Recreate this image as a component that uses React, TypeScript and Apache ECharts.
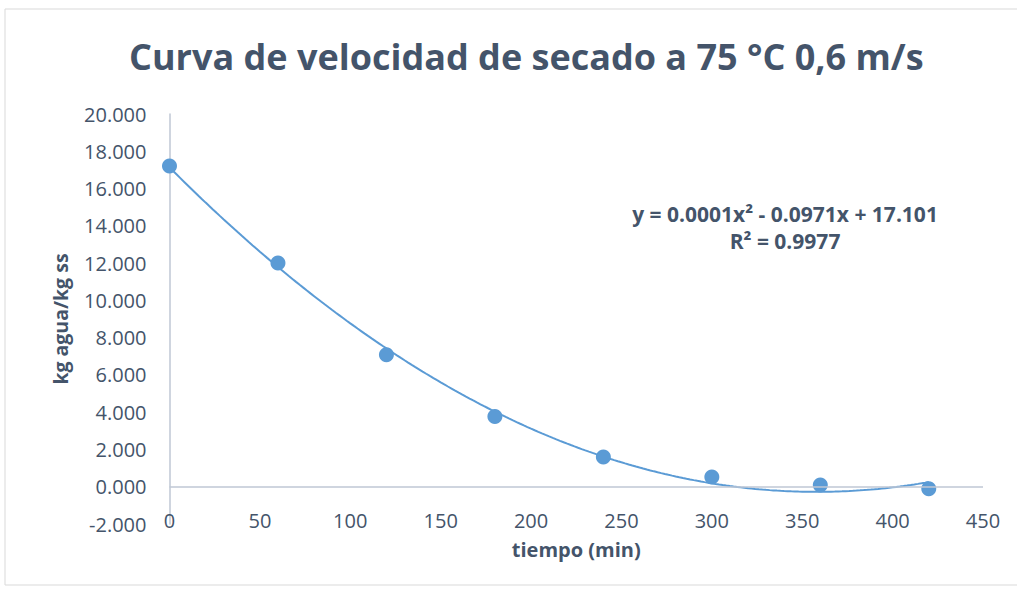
import React, { useEffect, useRef } from "react";
import * as echarts from "echarts";

const titleText = "Curva de velocidad de secado a 75 °C 0,6 m/s";
const xName = "tiempo (min)";
const yName = "kg agua/kg ss";
const equationLines = ["y = 0.0001x² - 0.0971x + 17.101", "R² = 0.9977"];

const tiempo = [0, 60, 120, 180, 240, 300, 360, 420];
const humedad = [17.21, 12.0, 7.08, 3.77, 1.59, 0.52, 0.09, -0.11];

// least-squares quadratic fit of the data (Excel polynomial trendline, order 2)
function fitQuadratic(xs: number[], ys: number[]) {
  const n = xs.length;
  let s1 = 0, s2 = 0, s3 = 0, s4 = 0, t0 = 0, t1 = 0, t2 = 0;
  for (let i = 0; i < n; i++) {
    const x = xs[i], y = ys[i];
    s1 += x; s2 += x * x; s3 += x * x * x; s4 += x * x * x * x;
    t0 += y; t1 += x * y; t2 += x * x * y;
  }
  const M = [
    [n, s1, s2, t0],
    [s1, s2, s3, t1],
    [s2, s3, s4, t2],
  ];
  for (let i = 0; i < 3; i++) {
    for (let k = i + 1; k < 3; k++) {
      const f = M[k][i] / M[i][i];
      for (let j = i; j < 4; j++) M[k][j] -= f * M[i][j];
    }
  }
  const r = [0, 0, 0];
  for (let i = 2; i >= 0; i--) {
    let s = M[i][3];
    for (let j = i + 1; j < 3; j++) s -= M[i][j] * r[j];
    r[i] = s / M[i][i];
  }
  return r; // c, b, a
}

export default function App() {
  const ref = useRef<HTMLDivElement>(null);
  useEffect(() => {
    if (!ref.current) return;
    const chart = echarts.init(ref.current, undefined, { renderer: "svg" });
    const [c0, c1, c2] = fitQuadratic(tiempo, humedad);
    const trend: number[][] = [];
    const xMin = tiempo[0], xMax = tiempo[tiempo.length - 1];
    for (let x = xMin; x <= xMax; x += 2) {
      trend.push([x, c0 + c1 * x + c2 * x * x]);
    }
    const txt = "#44546A";
    const axisCol = "#BFC7D5";
    const font = "'Open Sans', 'Noto Sans', sans-serif";
    chart.setOption({
      animation: false,
      backgroundColor: "#fff",
      textStyle: { fontFamily: font },
      title: {
        text: titleText,
        left: 124,
        top: 33,
        textStyle: { color: txt, fontSize: 36, fontWeight: "bold", fontFamily: font },
      },
      grid: { left: 169.5, right: 34, top: 114, bottom: 65 },
      xAxis: {
        type: "value",
        min: 0,
        max: 450,
        interval: 50,
        axisLine: { show: false, onZero: false },
        axisTick: { show: false },
        splitLine: { show: false },
        axisLabel: { color: txt, fontSize: 20, margin: -14, fontFamily: font },
        name: xName,
        nameLocation: "middle",
        nameGap: 15,
        nameTextStyle: { color: txt, fontSize: 20, fontWeight: "bold", fontFamily: font, verticalAlign: "top" },
      },
      yAxis: {
        type: "value",
        min: -2,
        max: 20,
        interval: 2,
        axisLine: { show: true, onZero: false, lineStyle: { color: axisCol, width: 1.5 } },
        axisTick: { show: false },
        splitLine: { show: false },
        axisLabel: {
          color: txt,
          fontSize: 20,
          margin: 23,
          fontFamily: font,
          formatter: (v: number) => v.toFixed(3),
        },
        name: yName,
        nameLocation: "middle",
        nameGap: 99,
        nameRotate: 90,
        nameTextStyle: { color: txt, fontSize: 19.5, fontWeight: "bold", fontFamily: font },
      },
      graphic: [
        {
          type: "rect",
          silent: true,
          z: -10,
          shape: { x: 5, y: 9, width: 1040, height: 576 },
          style: { fill: "none", stroke: "#D9D9D9", lineWidth: 1 },
        },
        {
          type: "text",
          x: 785,
          y: 200,
          style: {
            text: equationLines.join("\n"),
            fill: txt,
            font: `bold 21px ${font}`,
            textAlign: "center",
            lineHeight: 27,
          },
        },
      ],
      series: [
        {
          type: "line",
          data: trend,
          showSymbol: false,
          symbol: "none",
          lineStyle: { color: "#5B9BD5", width: 2 },
          z: 3,
          markLine: {
            silent: true,
            symbol: "none",
            label: { show: false },
            lineStyle: { color: axisCol, width: 1.5, type: "solid" },
            data: [{ yAxis: 0 }],
          },
        },
        {
          type: "scatter",
          data: tiempo.map((x, i) => [x, humedad[i]]),
          symbol: "circle",
          symbolSize: 15,
          itemStyle: { color: "#5B9BD5", opacity: 1 },
          z: 4,
        },
      ],
    });
    return () => chart.dispose();
  }, []);
  return (
    <div
      ref={ref}
      style={{ position: "absolute", left: 0, top: 0, width: 1017, height: 589 }}
    />
  );
}
